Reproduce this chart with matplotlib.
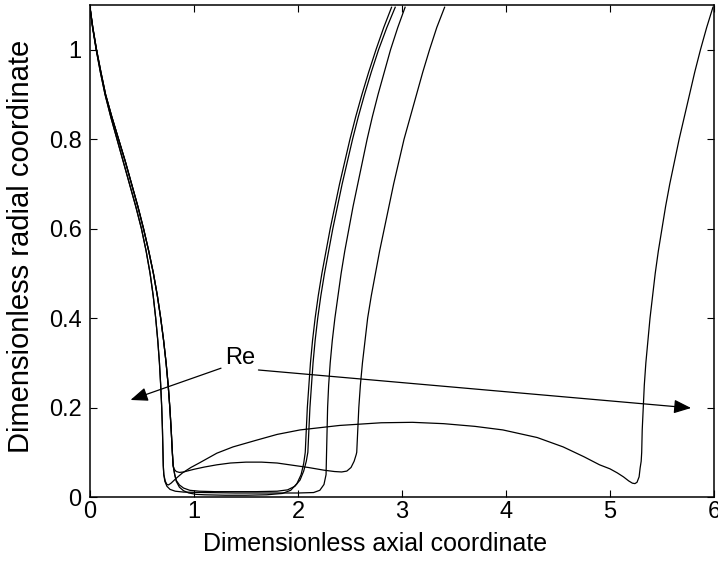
import matplotlib.pyplot as plt

plt.rcParams['font.family'] = ['Liberation Sans', 'DejaVu Sans']

# descending branch from the inlet; two slightly different paths
left_y = [1.095, 1.05, 1.0, 0.95, 0.9, 0.85, 0.8, 0.75, 0.7, 0.65, 0.6, 0.55, 0.5, 0.45,
          0.4, 0.35, 0.3, 0.25, 0.2, 0.15, 0.1, 0.07]
left_outer_x = [0.0, 0.025, 0.06, 0.10, 0.145, 0.20, 0.26, 0.32, 0.38, 0.44, 0.495, 0.54,
                0.578, 0.608, 0.632, 0.652, 0.668, 0.68, 0.69, 0.697, 0.702, 0.705]
left_inner_x = [0.0, 0.027, 0.063, 0.105, 0.15, 0.21, 0.275, 0.34, 0.40, 0.46, 0.515, 0.565,
                0.61, 0.648, 0.68, 0.708, 0.732, 0.752, 0.768, 0.781, 0.792, 0.80]

# rising branch heights, shared by every profile
rise_y = [0.1, 0.15, 0.2, 0.25, 0.3, 0.35, 0.4, 0.45, 0.5, 0.55, 0.6, 0.65, 0.7, 0.75,
          0.8, 0.85, 0.9, 0.95, 1.0, 1.05, 1.095]

# profile a: thin flat neck
neck_a_x = [0.815, 0.83, 0.86, 0.90, 0.95, 1.02, 1.1, 1.3, 1.5, 1.7, 1.85, 1.93, 1.99, 2.03, 2.055]
neck_a_y = [0.05, 0.035, 0.022, 0.014, 0.009, 0.006, 0.005, 0.004, 0.004, 0.005, 0.008, 0.015,
            0.03, 0.05, 0.075]
rise_a_x = [2.07, 2.08, 2.09, 2.105, 2.12, 2.14, 2.165, 2.195, 2.23, 2.27, 2.31, 2.355, 2.40,
            2.45, 2.50, 2.555, 2.615, 2.68, 2.75, 2.825, 2.90]

# profile b
neck_b_x = [0.815, 0.83, 0.86, 0.90, 0.96, 1.05, 1.2, 1.4, 1.6, 1.8, 1.9, 1.97, 2.02, 2.055, 2.08]
neck_b_y = [0.05, 0.037, 0.027, 0.02, 0.015, 0.013, 0.012, 0.012, 0.012, 0.013, 0.016, 0.024,
            0.038, 0.058, 0.08]
rise_b_x = [2.095, 2.105, 2.115, 2.13, 2.145, 2.165, 2.19, 2.22, 2.255, 2.295, 2.335, 2.38,
            2.425, 2.475, 2.525, 2.58, 2.64, 2.705, 2.775, 2.855, 2.935]

# profile c
neck_c_x = [0.71, 0.72, 0.74, 0.77, 0.82, 0.9, 1.1, 1.4, 1.7, 2.0, 2.15, 2.21, 2.25, 2.27]
neck_c_y = [0.05, 0.035, 0.024, 0.017, 0.013, 0.011, 0.01, 0.009, 0.009, 0.009, 0.01, 0.015,
            0.028, 0.05]
rise_c_x = [2.275, 2.28, 2.285, 2.295, 2.31, 2.33, 2.355, 2.385, 2.415, 2.45, 2.49, 2.53,
            2.575, 2.62, 2.665, 2.715, 2.77, 2.83, 2.89, 2.96, 3.03]

# profile d: small bump in the neck
neck_d_x = [0.81, 0.83, 0.86, 0.90, 0.95, 1.0, 1.1, 1.22, 1.35, 1.5, 1.65, 1.8, 1.95, 2.1,
            2.25, 2.35, 2.42, 2.47, 2.51, 2.54, 2.56]
neck_d_y = [0.062, 0.057, 0.055, 0.056, 0.059, 0.062, 0.067, 0.072, 0.076, 0.078, 0.078,
            0.076, 0.071, 0.066, 0.06, 0.057, 0.056, 0.058, 0.066, 0.08, 0.095]
rise_d_x = [2.565, 2.575, 2.585, 2.60, 2.62, 2.645, 2.67, 2.705, 2.745, 2.785, 2.83, 2.875,
            2.92, 2.97, 3.02, 3.08, 3.14, 3.20, 3.265, 3.335, 3.41]

# profile e: long neck with a broad hump
neck_e_x = [0.71, 0.725, 0.74, 0.755, 0.78, 0.83, 0.89, 0.97, 1.05, 1.22, 1.375, 1.6, 1.8,
            2.02, 2.4, 2.8, 3.1, 3.4, 3.7, 3.97, 4.3, 4.55, 4.75, 4.90, 5.0, 5.07, 5.13, 5.18,
            5.215, 5.24, 5.26, 5.28, 5.29, 5.30]
neck_e_y = [0.05, 0.035, 0.028, 0.027, 0.031, 0.042, 0.054, 0.066, 0.076, 0.098, 0.112,
            0.127, 0.14, 0.15, 0.16, 0.166, 0.167, 0.164, 0.158, 0.15, 0.133, 0.112, 0.09,
            0.072, 0.063, 0.054, 0.045, 0.036, 0.031, 0.03, 0.033, 0.045, 0.065, 0.08]
rise_e_x = [5.305, 5.31, 5.32, 5.33, 5.345, 5.365, 5.385, 5.41, 5.435, 5.465, 5.50, 5.535,
            5.575, 5.62, 5.665, 5.715, 5.765, 5.815, 5.87, 5.93, 5.99]

profiles = [
    (left_inner_x + neck_a_x + rise_a_x, left_y + neck_a_y + rise_y),
    (left_inner_x + neck_b_x + rise_b_x, left_y + neck_b_y + rise_y),
    (left_outer_x + neck_c_x + rise_c_x, left_y + neck_c_y + rise_y),
    (left_inner_x + neck_d_x + rise_d_x, left_y + neck_d_y + rise_y),
    (left_outer_x + neck_e_x + rise_e_x, left_y + neck_e_y + rise_y),
]

fig = plt.figure(figsize=(7.18, 5.63), dpi=100)
ax = fig.add_axes([0.1253, 0.1172, 0.8691, 0.8739])

for xs, ys in profiles:
    ax.plot(xs, ys, color='k', lw=0.9)

# Re label with arrows pointing both ways
ax.text(1.44, 0.31, 'Re', ha='center', va='center', fontsize=17)
arrow = dict(arrowstyle='-|>,head_length=0.75,head_width=0.3', mutation_scale=14,
             color='k', lw=0.9, shrinkA=0, shrinkB=0)
ax.annotate('', xy=(0.39, 0.217), xytext=(1.26, 0.288), arrowprops=arrow)
ax.annotate('', xy=(5.78, 0.199), xytext=(1.62, 0.284), arrowprops=arrow)

ax.set_xlim(0, 6)
ax.set_ylim(0, 1.1)
ax.set_xticks([0, 1, 2, 3, 4, 5, 6])
ax.set_yticks([0, 0.2, 0.4, 0.6, 0.8, 1])
ax.set_yticklabels(['0', '0.2', '0.4', '0.6', '0.8', '1'])
ax.tick_params(direction='in', length=5, width=0.8, labelsize=17,
               top=True, right=True)
ax.tick_params(axis='x', pad=3)
ax.tick_params(axis='y', pad=6)
for s in ax.spines.values():
    s.set_linewidth(1.1)

ax.set_xlabel('Dimensionless axial coordinate', fontsize=18)
ax.set_ylabel('Dimensionless radial coordinate', fontsize=21)
ax.xaxis.set_label_coords(0.457, -0.072)
ax.yaxis.set_label_coords(-0.088, 0.51)

fig.savefig('out.png', dpi=100)
